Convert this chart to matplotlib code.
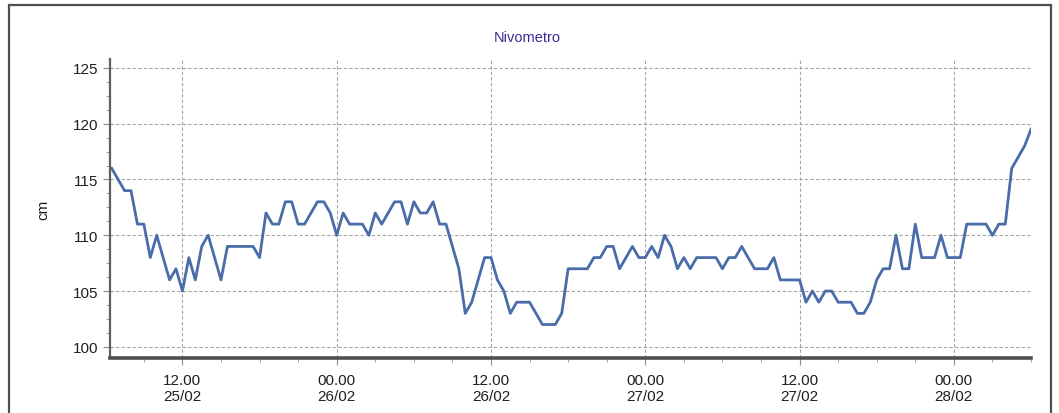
import numpy as np
import pandas as pd
import matplotlib
matplotlib.use("Agg")
import matplotlib.pyplot as plt
import matplotlib.dates as mdates
from matplotlib.ticker import MultipleLocator
from matplotlib.patches import Rectangle

# Snow depth readings, every 30 minutes from 25/02 06:30
start = "2024-02-25 06:30"
depth_cm = [
    116, 115, 114, 114, 111, 111, 108, 110, 108, 106,
    107, 105, 108, 106, 109, 110, 108, 106, 109, 109,
    109, 109, 109, 108, 112, 111, 111, 113, 113, 111,
    111, 112, 113, 113, 112, 110, 112, 111, 111, 111,
    110, 112, 111, 112, 113, 113, 111, 113, 112, 112,
    113, 111, 111, 109, 107, 103, 104, 106, 108, 108,
    106, 105, 103, 104, 104, 104, 103, 102, 102, 102,
    103, 107, 107, 107, 107, 108, 108, 109, 109, 107,
    108, 109, 108, 108, 109, 108, 110, 109, 107, 108,
    107, 108, 108, 108, 108, 107, 108, 108, 109, 108,
    107, 107, 107, 108, 106, 106, 106, 106, 104, 105,
    104, 105, 105, 104, 104, 104, 103, 103, 104, 106,
    107, 107, 110, 107, 107, 111, 108, 108, 108, 110,
    108, 108, 108, 111, 111, 111, 111, 110, 111, 111,
    116, 117, 118, 119.5,
]
times = pd.date_range(start, periods=len(depth_cm), freq="30min")

title = "Nivometro"
y_label = "cm"

plt.rcParams["font.family"] = ["Liberation Sans", "DejaVu Sans"]

fig = plt.figure(figsize=(10.59, 4.14), dpi=100)
ax = fig.add_axes([110 / 1059, 1 - 359 / 414, (1031 - 110) / 1059, (359 - 60) / 414])

# outer panel frame
fig.patches.append(Rectangle((9 / 1059, -0.1), (1051 - 9) / 1059, 1.1 - 6 / 414,
                             transform=fig.transFigure, fill=False,
                             edgecolor="#505050", linewidth=1.6))

ax.plot(times, depth_cm, color="#4a6ca8", linewidth=2.0, solid_joinstyle="round")

ax.set_xlim(pd.Timestamp("2024-02-25 06:22"), pd.Timestamp("2024-02-28 06:00"))
ax.set_ylim(99.0, 125.8)

ax.yaxis.set_major_locator(MultipleLocator(5))
ax.yaxis.set_minor_locator(MultipleLocator(1.25))
ax.xaxis.set_major_locator(mdates.HourLocator(byhour=[0, 12]))
ax.xaxis.set_minor_locator(mdates.HourLocator(byhour=range(0, 24, 3)))
ax.xaxis.set_major_formatter(mdates.DateFormatter("%H.%M\n%d/%m"))

ax.grid(True, which="major", color="#a4a4a4", linestyle=(0, (3, 2)), linewidth=0.8)

for s in ["top", "right"]:
    ax.spines[s].set_visible(False)
ax.spines["left"].set_color("#606060")
ax.spines["left"].set_linewidth(1.6)
ax.spines["bottom"].set_color("#505050")
ax.spines["bottom"].set_linewidth(2.6)

ax.tick_params(axis="both", which="major", length=5, color="#909090", labelsize=11,
               labelcolor="#202020")
ax.tick_params(axis="both", which="minor", length=3, color="#909090")
ax.tick_params(axis="x", which="major", pad=6)

# title is centred on the whole panel, not on the axes
fig.text(527 / 1059, 1 - 38 / 414, title, color="#3a2a9a", fontsize=10.5,
         ha="center", va="center")
ax.set_ylabel(y_label, fontsize=11, color="#202020", labelpad=16)

fig.savefig("out.png", dpi=100)
